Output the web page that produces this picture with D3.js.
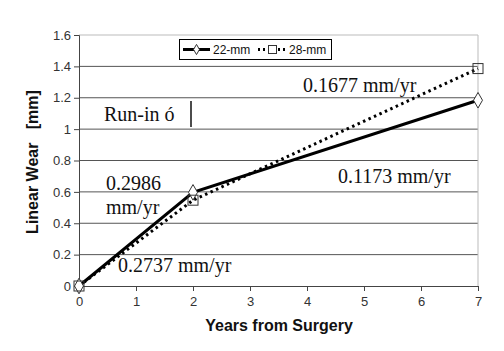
<!DOCTYPE html>
<html><head><meta charset="utf-8">
<script src="https://cdn.jsdelivr.net/npm/d3@7/dist/d3.min.js"></script>
<style>body{margin:0;background:#fff}svg{display:block}</style>
</head><body>
<svg id="c" width="504" height="351"></svg>
<script>
const years = [0, 2, 7];
const wear22 = [0, 0.597, 1.184];
const wear28 = [0, 0.547, 1.386];
const yTicks = [0, 0.2, 0.4, 0.6, 0.8, 1, 1.2, 1.4, 1.6];
const xTicks = [0, 1, 2, 3, 4, 5, 6, 7];
const seriesNames = ["22-mm", "28-mm"];

const svg = d3.select("#c");
const x = d3.scaleLinear().domain([0, 7]).range([79, 478]);
const y = d3.scaleLinear().domain([0, 1.6]).range([286, 35]);

// gridlines
svg.append("g").selectAll("line").data(yTicks.filter(d => d > 0)).join("line")
  .attr("x1", x(0)).attr("x2", x(7))
  .attr("y1", d => y(d)).attr("y2", d => y(d))
  .attr("stroke", d => d === 1.6 ? "#bbb" : "#555").attr("stroke-width", 1);
// right border
svg.append("line").attr("x1", x(7)).attr("x2", x(7)).attr("y1", y(1.6)).attr("y2", y(0))
  .attr("stroke", "#bbb");

// axes
const yAxis = svg.append("g").attr("transform", `translate(${x(0)},0)`)
  .call(d3.axisLeft(y).tickValues(yTicks).tickFormat(d3.format("")).tickSize(5).tickPadding(3));
const xAxis = svg.append("g").attr("transform", `translate(0,${y(0)})`)
  .call(d3.axisBottom(x).tickValues(xTicks).tickFormat(d3.format("d")).tickSize(5).tickPadding(6));
[yAxis, xAxis].forEach(a => {
  a.select(".domain").attr("stroke", "#444");
  a.selectAll(".tick line").attr("stroke", "#444");
  a.selectAll("text").attr("font-family", "Arial, 'Liberation Sans', sans-serif")
    .attr("font-size", 13).attr("fill", "#333");
});

// annotations
const ann = svg.append("g").attr("font-family", "'Times New Roman', 'Liberation Serif', serif")
  .attr("font-size", 20).attr("fill", "#111");
ann.append("text").attr("x", 303).attr("y", 92).text("0.1677 mm/yr");
ann.append("text").attr("x", 104).attr("y", 121).text("Run-in ó");
ann.append("line").attr("x1", 191).attr("x2", 191).attr("y1", 101).attr("y2", 127)
  .attr("stroke", "#111").attr("stroke-width", 1.5);
ann.append("text").attr("x", 106).attr("y", 190).text("0.2986");
ann.append("text").attr("x", 106).attr("y", 214).text("mm/yr");
ann.append("text").attr("x", 338).attr("y", 183).text("0.1173 mm/yr");
ann.append("text").attr("x", 118).attr("y", 272).text("0.2737 mm/yr");

// series
const line = d3.line().x(d => x(d[0])).y(d => y(d[1]));
const d22 = years.map((t, i) => [t, wear22[i]]);
const d28 = years.map((t, i) => [t, wear28[i]]);
svg.append("path").attr("d", line(d28)).attr("fill", "none").attr("stroke", "#000")
  .attr("stroke-width", 3).attr("stroke-dasharray", "2.5,3.5");
svg.append("path").attr("d", line(d22)).attr("fill", "none").attr("stroke", "#000")
  .attr("stroke-width", 3);

const diamond = d3.symbol().type(d3.symbolDiamond).size(70);
svg.append("g").selectAll("path").data(d22).join("path")
  .attr("d", diamond).attr("transform", d => `translate(${x(d[0])},${y(d[1])})`)
  .attr("fill", "#fff").attr("stroke", "#333").attr("stroke-width", 1);
svg.append("g").selectAll("rect").data(d28).join("rect")
  .attr("x", d => x(d[0]) - 5).attr("y", d => y(d[1]) - 5).attr("width", 10).attr("height", 10)
  .attr("fill", "none").attr("stroke", "#333").attr("stroke-width", 1);

// legend
const lg = svg.append("g");
lg.append("rect").attr("x", 179.5).attr("y", 39.5).attr("width", 152).attr("height", 20)
  .attr("fill", "#fff").attr("stroke", "#000");
lg.append("line").attr("x1", 183).attr("x2", 210).attr("y1", 49.5).attr("y2", 49.5)
  .attr("stroke", "#000").attr("stroke-width", 3);
lg.append("path").attr("d", d3.symbol().type(d3.symbolDiamond).size(30))
  .attr("transform", "translate(196.5,49.5)").attr("fill", "#fff").attr("stroke", "#333");
lg.append("line").attr("x1", 258).attr("x2", 286).attr("y1", 49.5).attr("y2", 49.5)
  .attr("stroke", "#000").attr("stroke-width", 3).attr("stroke-dasharray", "2,3");
lg.append("rect").attr("x", 268.5).attr("y", 45.5).attr("width", 8).attr("height", 8)
  .attr("fill", "#fff").attr("stroke", "#333");
const lt = lg.append("g").attr("font-family", "Arial, 'Liberation Sans', sans-serif")
  .attr("font-size", 12).attr("fill", "#111");
lt.append("text").attr("x", 213).attr("y", 54).text(seriesNames[0]);
lt.append("text").attr("x", 289).attr("y", 54).text(seriesNames[1]);

// axis titles
svg.append("text").attr("x", 279).attr("y", 331).attr("text-anchor", "middle")
  .attr("font-family", "Arial, 'Liberation Sans', sans-serif").attr("font-weight", "bold")
  .attr("font-size", 16).attr("fill", "#111").text("Years from Surgery");
svg.append("text").attr("transform", "translate(38,162) rotate(-90)").attr("text-anchor", "middle")
  .attr("font-family", "Arial, 'Liberation Sans', sans-serif").attr("font-weight", "bold")
  .attr("font-size", 16).attr("fill", "#111")
  .style("white-space", "pre").text("Linear Wear   [mm]");
</script>
</body></html>
